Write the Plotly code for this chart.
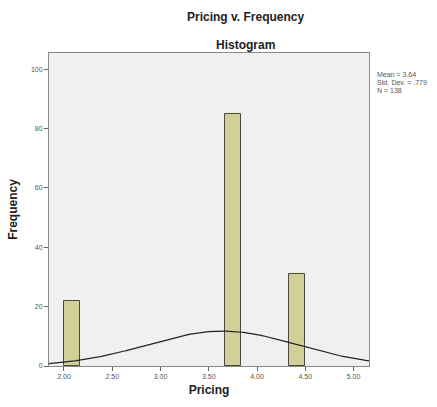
import numpy as np
import plotly.graph_objects as go

# Data
bin_left = [2.0, 3.6667, 4.3333]
bin_width = 1.0 / 6.0
frequencies = [22, 85, 31]
stat_mean = 3.64
stat_sd = 0.779
stat_n = 138
stats_lines = ["Mean = 3.64", "Std. Dev. = .779", "N = 138"]
x_ticks = [2.0, 2.5, 3.0, 3.5, 4.0, 4.5, 5.0]
x_tick_labels = ["2.00", "2.50", "3.00", "3.50", "4.00", "4.50", "5.00"]
y_ticks = [0, 20, 40, 60, 80, 100]

centers = [b + bin_width / 2 for b in bin_left]
FONT = "Arial, Liberation Sans"

fig = go.Figure()
fig.add_trace(go.Bar(
    x=centers, y=frequencies, width=[bin_width] * len(centers),
    marker=dict(color="#d3cf98", line=dict(color="#4a4a3a", width=1)),
    showlegend=False, hoverinfo="skip",
))

xs = np.linspace(1.845, 5.16, 200)
curve = stat_n * bin_width * np.exp(-0.5 * ((xs - stat_mean) / stat_sd) ** 2) / (stat_sd * np.sqrt(2 * np.pi))
fig.add_trace(go.Scatter(x=xs, y=curve, mode="lines",
                         line=dict(color="#222222", width=1.2),
                         showlegend=False, hoverinfo="skip"))

H = 317.0  # plot area height in px
def py(ypix):
    return (370 - ypix) / H

for i, line in enumerate(stats_lines):
    fig.add_annotation(text=line, xref="paper", yref="paper",
                       x=(375 - 49) / 320.0, y=py(75 + 8 * i),
                       xanchor="left", yanchor="middle", align="left", showarrow=False,
                       font=dict(family=FONT, size=7, color="#555"))

fig.add_annotation(text="<b>Pricing v. Frequency</b>", xref="paper", yref="paper",
                   x=(245 - 49) / 320.0, y=py(17), xanchor="center", yanchor="middle",
                   showarrow=False, font=dict(family=FONT, size=12, color="#222"))
fig.add_annotation(text="<b>Histogram</b>", xref="paper", yref="paper",
                   x=(245 - 49) / 320.0, y=py(45), xanchor="center", yanchor="middle",
                   showarrow=False, font=dict(family=FONT, size=12, color="#222"))

fig.update_layout(
    width=437, height=407,
    margin=dict(l=49, r=68, t=53, b=37),
    paper_bgcolor="white", plot_bgcolor="#f0f0f0",
    bargap=0,
    xaxis=dict(range=[1.845, 5.16], tickvals=x_ticks, ticktext=x_tick_labels,
               showgrid=False, zeroline=False, showline=True, linecolor="#888",
               linewidth=1, mirror=True, ticks="outside", ticklen=4, tickcolor="#666",
               tickfont=dict(family=FONT, size=7, color="#555"),
               title=dict(text="<b>Pricing</b>", standoff=6,
                          font=dict(family=FONT, size=12, color="#222"))),
    yaxis=dict(range=[0, 105.5], tickvals=y_ticks,
               showgrid=False, zeroline=False, showline=True, linecolor="#888",
               linewidth=1, mirror=True, ticks="outside", ticklen=4, tickcolor="#666",
               tickfont=dict(family=FONT, size=7, color="#555"),
               title=dict(text="<b>Frequency</b>", standoff=10,
                          font=dict(family=FONT, size=12, color="#222"))),
)

fig.write_html("out.html")
